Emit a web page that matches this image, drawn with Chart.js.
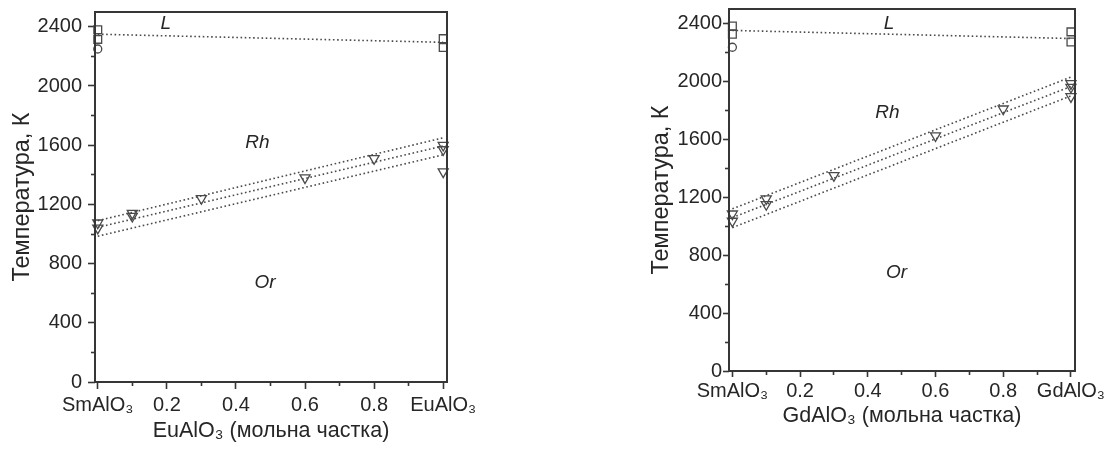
<!DOCTYPE html>
<html><head><meta charset="utf-8">
<script src="https://cdn.jsdelivr.net/npm/chart.js@4.4.0/dist/chart.umd.min.js"></script>
<style>
html,body{margin:0;padding:0;background:#fff;width:1106px;height:451px;overflow:hidden;}
.box{position:absolute;top:0;height:451px;}
#b1{left:0;width:500px;}
#b2{left:640px;width:466px;}
</style></head><body>
<div class="box" id="b1"><canvas id="c1"></canvas></div>
<div class="box" id="b2"><canvas id="c2"></canvas></div>
<script>
// ---- ticks & texts ----
const xMajorTicks = [0, 0.2, 0.4, 0.6, 0.8, 1];
const xMinorTicks = [0.1, 0.3, 0.5, 0.7, 0.9];
const yMajorTicks = [0, 400, 800, 1200, 1600, 2000, 2400];
const yMinorTicks = [200, 600, 1000, 1400, 1800, 2200];
const euTickLabels = ['SmAlO\u2083', '0.2', '0.4', '0.6', '0.8', 'EuAlO\u2083'];
const gdTickLabels = ['SmAlO\u2083', '0.2', '0.4', '0.6', '0.8', 'GdAlO\u2083'];
const yTitle = 'Температура, К';
const euXTitle = 'EuAlO\u2083 (мольна частка)';
const gdXTitle = 'GdAlO\u2083 (мольна частка)';

// ---- EuAlO3 panel data ----
const euLiqX = [0, 1];
const euLiqY = [2350, 2295];
const euSqX = [0, 0, 1, 1];
const euSqY = [2380, 2315, 2320, 2260];
const euCircX = [0];
const euCircY = [2250];
const euTriX = [0, 0, 0.1, 0.1, 0.3, 0.6, 0.8, 1, 1, 1];
const euTriY = [1075, 1040, 1140, 1120, 1240, 1380, 1510, 1600, 1570, 1420];
const euFitX = [0, 1];
const euFitTop = [1090, 1650];
const euFitMid = [1045, 1595];
const euFitLow = [985, 1535];
const euPhaseNames = ['L', 'Rh', 'Or'];
const euPhaseX = [0.197, 0.462, 0.484];
const euPhaseY = [2418, 1617, 674];

// ---- GdAlO3 panel data ----
const gdLiqX = [0, 1];
const gdLiqY = [2352, 2296];
const gdSqX = [0, 0, 1, 1];
const gdSqY = [2383, 2326, 2342, 2272];
const gdCircX = [0];
const gdCircY = [2236];
const gdTriX = [0, 0, 0.1, 0.1, 0.3, 0.6, 0.8, 1, 1, 1];
const gdTriY = [1085, 1035, 1190, 1150, 1350, 1625, 1810, 1985, 1960, 1895];
const gdFitX = [0, 1];
const gdFitTop = [1120, 2030];
const gdFitMid = [1060, 1965];
const gdFitLow = [990, 1900];
const gdPhaseNames = ['L', 'Rh', 'Or'];
const gdPhaseX = [0.463, 0.458, 0.485];
const gdPhaseY = [2400, 1785, 680];

const FONT = 'Arial, "Liberation Sans", Helvetica, sans-serif';
const INK = '#262626';
const AXIS = '#363636';
Chart.defaults.font.family = FONT;
Chart.defaults.color = INK;

function pts(xs, ys) { return xs.map((x, i) => ({x: x, y: ys[i]})); }
function fitDs(xs, ys) {
  return {data: pts(xs, ys), showLine: true, borderColor: '#4a4a4a', borderWidth: 1.6,
    borderDash: [1.6, 2.6], pointRadius: 0, clip: false};
}
function markDs(xs, ys, style, r, rot) {
  return {data: pts(xs, ys), showLine: false, pointStyle: style, pointRadius: r,
    pointRotation: rot || 0, borderColor: '#4a4a4a', backgroundColor: 'rgba(255,255,255,0)',
    pointBorderWidth: 1.3, clip: false};
}
const near = (a, b) => Math.abs(a - b) < 1e-6;
const isMajor = (v, list) => list.some(m => near(m, v));

const framePlugin = {
  id: 'frame',
  afterDatasetsDraw(chart) {
    const a = chart.chartArea, c = chart.ctx;
    c.save();
    c.strokeStyle = AXIS; c.lineWidth = 2;
    c.strokeRect(a.left, a.top, a.right - a.left, a.bottom - a.top);
    c.restore();
  }
};
const phasePlugin = {
  id: 'phases',
  afterDatasetsDraw(chart, args, opts) {
    const c = chart.ctx, sx = chart.scales.x, sy = chart.scales.y;
    c.save();
    c.font = 'italic 19px ' + FONT;
    c.fillStyle = INK; c.textAlign = 'center'; c.textBaseline = 'middle';
    opts.names.forEach((n, i) => c.fillText(n, sx.getPixelForValue(opts.xs[i]), sy.getPixelForValue(opts.ys[i])));
    c.restore();
  }
};

function makePanel(id, g, d) {
  const xAll = xMajorTicks.concat(xMinorTicks).sort((a, b) => a - b);
  const yAll = yMajorTicks.concat(yMinorTicks).sort((a, b) => a - b);
  const minorOffsetStart = 14 - (g.tl - 4); // left ticks are drawn outer->axis
  new Chart(document.getElementById(id), {
    type: 'scatter',
    data: {datasets: [
      fitDs(d.liqX, d.liqY),
      fitDs(d.fitX, d.fitTop),
      fitDs(d.fitX, d.fitMid),
      fitDs(d.fitX, d.fitLow),
      markDs(d.sqX, d.sqY, 'rect', 5.5, 0),
      markDs(d.circX, d.circY, 'circle', 4, 0),
      markDs(d.triX, d.triY, 'triangle', 5.8, 180)
    ]},
    options: {
      animation: false, responsive: true, maintainAspectRatio: false, events: [],
      layout: {padding: {left: 0, top: g.top, right: g.right, bottom: 0}},
      plugins: {legend: {display: false}, tooltip: {enabled: false},
        phases: {names: d.names, xs: d.px, ys: d.py}},
      scales: {
        x: {
          type: 'linear', min: g.xmin, max: g.xmax,
          afterBuildTicks: s => { s.ticks = xAll.map(v => ({value: v})); },
          afterFit: s => { s.height = g.xH; s.paddingLeft = 0; s.paddingRight = 0; },
          border: {display: false},
          grid: {drawOnChartArea: false, drawTicks: true, tickLength: g.tl, tickWidth: 1.6, tickColor: AXIS,
            tickBorderDash: ctx => isMajor(ctx.tick.value, xMajorTicks) ? [] : [4, 10],
            tickBorderDashOffset: 0},
          ticks: {autoSkip: false, maxRotation: 0, minRotation: 0, padding: g.xPad, color: INK,
            font: {size: 20},
            callback: v => { const i = xMajorTicks.findIndex(m => near(m, v)); return i >= 0 ? d.tickLabels[i] : ''; }},
          title: {display: true, text: d.xTitle, color: INK, font: {size: 21.5},
            padding: {top: 0, bottom: g.xTitlePad}}
        },
        y: {
          type: 'linear', min: 0, max: 2500,
          afterBuildTicks: s => { s.ticks = yAll.map(v => ({value: v})); },
          afterFit: s => { s.width = g.yW; s.paddingTop = 0; s.paddingBottom = 0; },
          border: {display: false},
          grid: {drawOnChartArea: false, drawTicks: true, tickLength: g.tl, tickWidth: 1.6, tickColor: AXIS,
            tickBorderDash: ctx => isMajor(ctx.tick.value, yMajorTicks) ? [] : [4, 10],
            tickBorderDashOffset: ctx => isMajor(ctx.tick.value, yMajorTicks) ? 0 : minorOffsetStart},
          ticks: {autoSkip: false, padding: g.yPad, color: INK, font: {size: 20},
            callback: v => isMajor(v, yMajorTicks) ? String(v) : ''},
          title: {display: true, text: yTitle, color: INK, font: {size: 23.5},
            padding: {top: g.yTitlePad, bottom: 0}}
        }
      }
    },
    plugins: [framePlugin, phasePlugin]
  });
}

makePanel('c1',
  {top: 12, right: 53, xH: 69, yW: 95, tl: 7, xPad: 4, yPad: 6, xTitlePad: 7, yTitlePad: 8.5, xmin: -0.008, xmax: 1.011},
  {liqX: euLiqX, liqY: euLiqY, sqX: euSqX, sqY: euSqY, circX: euCircX, circY: euCircY,
   triX: euTriX, triY: euTriY, fitX: euFitX, fitTop: euFitTop, fitMid: euFitMid, fitLow: euFitLow,
   names: euPhaseNames, px: euPhaseX, py: euPhaseY, tickLabels: euTickLabels, xTitle: euXTitle});

makePanel('c2',
  {top: 9, right: 31, xH: 80, yW: 89, tl: 6, xPad: 2, yPad: 1, xTitlePad: 22, yTitlePad: 7.5, xmin: -0.010, xmax: 1.012},
  {liqX: gdLiqX, liqY: gdLiqY, sqX: gdSqX, sqY: gdSqY, circX: gdCircX, circY: gdCircY,
   triX: gdTriX, triY: gdTriY, fitX: gdFitX, fitTop: gdFitTop, fitMid: gdFitMid, fitLow: gdFitLow,
   names: gdPhaseNames, px: gdPhaseX, py: gdPhaseY, tickLabels: gdTickLabels, xTitle: gdXTitle});
</script>
</body></html>
